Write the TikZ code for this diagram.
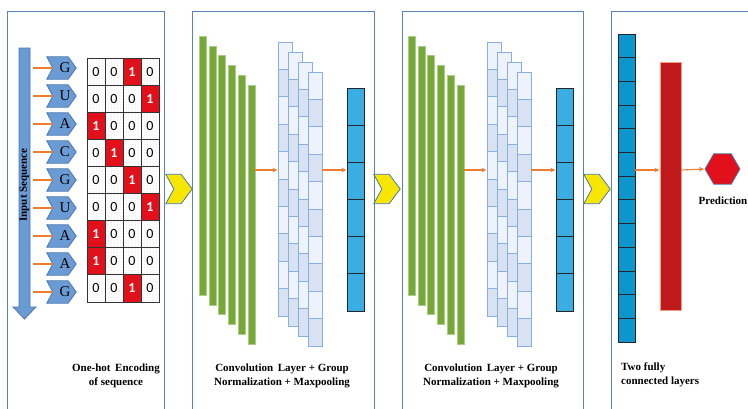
\documentclass[tikz,border=0pt]{standalone}
\usepackage{fontspec}
\setmainfont{Liberation Serif}
\newfontfamily\digitfont{Carlito}
\usetikzlibrary{arrows.meta,calc,patterns,shapes.geometric}

\definecolor{panelblue}{HTML}{5A82BC}
\definecolor{seqblue}{HTML}{6B9BD4}
\definecolor{seqedge}{HTML}{4A76AE}
\definecolor{orangeline}{HTML}{ED7D31}
\definecolor{hotred}{HTML}{E1101A}
\definecolor{convgreen}{HTML}{77A737}
\definecolor{convgreenedge}{HTML}{A8CF8A}
\definecolor{fmlight}{HTML}{EEF3FB}
\definecolor{fmdark}{HTML}{D9E2F3}
\definecolor{fmedge}{HTML}{86B0E0}
\definecolor{poolblue}{HTML}{3AAEE2}
\definecolor{fcblue}{HTML}{0B96CD}
\definecolor{darkred}{HTML}{C0191B}
\definecolor{darkrededge}{HTML}{F0A080}
\definecolor{chevyellow}{HTML}{F6E600}

\begin{document}
\begin{tikzpicture}[x=1pt,y=-1pt,
  panel/.style={draw=panelblue,line width=0.9pt,anchor=north west,inner sep=0pt},
  box/.style={anchor=north west,inner sep=0pt,outer sep=0pt},
  seqchev/.style={fill=seqblue,draw=seqedge,line width=0.8pt},
  ychev/.style={fill=chevyellow,draw=seqedge,line width=0.8pt},
  oline/.style={draw=orangeline,line width=1.3pt},
  oarrow/.style={draw=orangeline,line width=1.1pt,-{Stealth[length=5pt,width=4.5pt]},shorten >=0.5pt},
  cell/.style={inner sep=0pt,minimum width=18pt,minimum height=27.1pt,draw=black!80,line width=0.8pt},
  zero/.style={cell,pattern=dots,pattern color=gray!45,font=\digitfont\fontsize{14}{14}\selectfont},
  one/.style={cell,fill=hotred,text=white,font=\digitfont\bfseries\fontsize{14}{14}\selectfont},
  caption/.style={font=\bfseries\fontsize{11}{14}\selectfont,align=center,inner sep=0pt},
  gbar/.style={box,fill=convgreen,draw=convgreenedge,line width=0.5pt,minimum width=7pt,minimum height=259pt},
  fmcell/.style={box,draw=fmedge,line width=0.8pt,minimum width=14pt,minimum height=27.4pt},
  poolcell/.style={box,fill=poolblue,draw=black!85,line width=0.8pt,minimum width=17pt,minimum height=37.17pt},
  fccell/.style={box,fill=fcblue,draw=black!85,line width=0.8pt,minimum width=17pt,minimum height=23.69pt}
]
\useasboundingbox (0,0) rectangle (748,408);
\clip (0,0) rectangle (748,408);

% horizontal line on which all the small orange arrows sit
\coordinate (mid) at (0,170);

% ---------- panel frames (open at the bottom) ----------
\node[panel,minimum width=157pt,minimum height=420pt] (p1) at (7,11) {};
\node[panel,minimum width=182pt,minimum height=420pt] (p2) at (192,11) {};
\node[panel,minimum width=181pt,minimum height=420pt] (p3) at (402,11) {};
\node[panel,minimum width=137pt,minimum height=420pt] (p4) at (611,11) {};

% ---------- input sequence arrow ----------
\draw[fill=seqblue,draw=seqedge,line width=0.8pt]
  (19,48) -- (30,48) -- (30,307) -- (36,307) -- (24.5,319) -- (13,307) -- (19,307) -- cycle;
\node[font=\bfseries\fontsize{11}{11}\selectfont,rotate=90,inner sep=0pt] (inseq) at (24.5,185) {Input Sequence};

% ---------- nucleotide tags with orange leaders ----------
\foreach \L [count=\i from 0] in {G,U,A,C,G,U,A,A,G} {
  \pgfmathsetmacro\cy{68+28*\i}
  \node[inner sep=0pt,minimum width=29pt,minimum height=22pt] (s\i) at (61.5,\cy) {};
  \draw[seqchev] (s\i.north west) -- ($(s\i.north east)+(-8,0)$) -- (s\i.east)
     -- ($(s\i.south east)+(-8,0)$) -- (s\i.south west) -- ($(s\i.west)+(6,0)$) -- cycle;
  \coordinate (n\i) at ($(s\i.west)+(6,0)$);
  \coordinate (o\i) at (33,\cy);
  \draw[oline] (o\i) -- (n\i);
  \node[font=\fontsize{15}{15}\selectfont,inner sep=0pt] (l\i) at ($(s\i.center)+(3.5,0)$) {\L};
}

% ---------- one-hot matrix ----------
\foreach \p [count=\r from 0] in {3,4,1,2,3,4,1,1,3} {
  \foreach \c in {1,...,4} {
    \pgfmathsetmacro\xx{87+18*(\c-1)+9}
    \pgfmathsetmacro\yy{58+27.1*\r+13.55}
    \ifnum\c=\p\relax
      \node[one] (t\r-\c) at (\xx,\yy) {1};
    \else
      \node[zero] (t\r-\c) at (\xx,\yy) {0};
    \fi
  }
}
\node[caption] (cap1) at (116,376) {One-hot\, Encoding\\of sequence};

% ---------- connecting chevrons between panels ----------
\foreach \cx [count=\k] in {179,387,597} {
  \node[inner sep=0pt,minimum width=26pt,minimum height=29pt] (y\k) at (\cx,189) {};
  \draw[ychev] (y\k.north west) -- ($(y\k.north east)+(-11,0)$) -- (y\k.east)
     -- ($(y\k.south east)+(-11,0)$) -- (y\k.south west) -- ($(y\k.west)+(8,0)$) -- cycle;
}

% ---------- two convolution blocks ----------
\foreach \dx/\nm in {0/a,209/b} {
  \begin{scope}[xshift=\dx]
    % convolution filters
    \foreach \k in {0,...,5} {
      \node[gbar] (\nm-g\k) at (199+9.8*\k,36+9.8*\k) {};
    }
    % group-normalised feature maps
    \foreach \k in {0,...,3} {
      \foreach \j in {0,...,9} {
        \pgfmathtruncatemacro\odd{mod(\j,2)}
        \ifnum\odd=0
          \node[fmcell,fill=fmlight] (\nm-f\k-\j) at (278+10*\k,42+10*\k+27.4*\j) {};
        \else
          \node[fmcell,fill=fmdark] (\nm-f\k-\j) at (278+10*\k,42+10*\k+27.4*\j) {};
        \fi
      }
    }
    % max-pooled output
    \foreach \j in {0,...,5} {
      \node[poolcell] (\nm-m\j) at (347,88+37.17*\j) {};
    }
    \draw[oarrow] (\nm-g5.east |- mid) -- (\nm-f0-4.west |- mid);
    \draw[oarrow] (\nm-f3-4.east |- mid) -- (\nm-m2.west |- mid);
    \node[caption] (\nm-cap) at (282,376) {Convolution\, Layer + Group\\Normalization + Maxpooling};
  \end{scope}
}

% ---------- fully connected layers and prediction ----------
\foreach \j in {0,...,12} {
  \node[fccell] (fc\j) at (618,34+23.69*\j) {};
}
\node[box,fill=darkred,draw=darkrededge,line width=0.6pt,minimum width=21pt,minimum height=248pt] (fc2) at (660,62) {};
\node[regular polygon,regular polygon sides=6,minimum size=35pt,inner sep=0pt,
      fill=hotred,draw=seqedge,line width=0.8pt] (pred) at (722.5,169) {};
\draw[oarrow] (fc5.east |- mid) -- (fc2.west |- mid);
\draw[oarrow] (fc2.east |- mid) -- (pred.west);
\node[font=\bfseries\fontsize{11}{11}\selectfont,inner sep=0pt] (predlbl) at (723,201) {Prediction};
\node[caption,align=left,anchor=west] (cap4) at (621,375) {Two fully\\connected layers};

\end{tikzpicture}
\end{document}
